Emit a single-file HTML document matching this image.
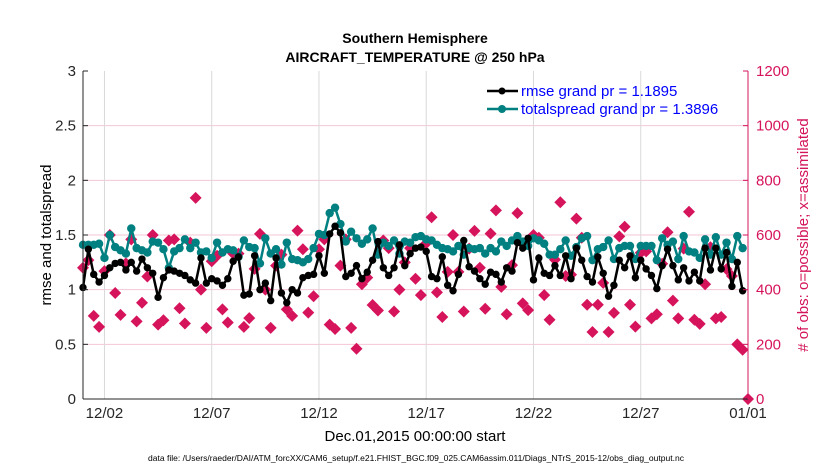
<!DOCTYPE html>
<html><head><meta charset="utf-8"><style>
body{margin:0;background:#fff;}
svg text{font-family:"Liberation Sans",Arial,sans-serif;}
</style></head><body>
<svg id="chart" width="830" height="470" xmlns="http://www.w3.org/2000/svg">
<text x="415" y="43" text-anchor="middle" font-size="14" font-weight="bold">Southern Hemisphere</text>
<text x="415" y="62" text-anchor="middle" font-size="14" font-weight="bold">AIRCRAFT_TEMPERATURE @ 250 hPa</text>
<g id="grid"></g>
<g id="series"></g>
<g id="axes"></g>
<text transform="translate(51,235) rotate(-90)" text-anchor="middle" font-size="15">rmse and totalspread</text>
<text transform="translate(808,235) rotate(-90)" text-anchor="middle" font-size="15" fill="#d4145a"># of obs: o=possible; x=assimilated</text>
<text x="415" y="441" text-anchor="middle" font-size="15">Dec.01,2015 00:00:00 start</text>
<text x="416" y="461" text-anchor="middle" font-size="8.6" textLength="536" lengthAdjust="spacingAndGlyphs">data file: /Users/raeder/DAI/ATM_forcXX/CAM6_setup/f.e21.FHIST_BGC.f09_025.CAM6assim.011/Diags_NTrS_2015-12/obs_diag_output.nc</text>
<g>
<line x1="487" y1="91" x2="518" y2="91" stroke="#000" stroke-width="2.5"/><circle cx="502" cy="91" r="3.5" fill="#000"/>
<text x="521" y="96" font-size="15" fill="#0000ff">rmse grand pr = 1.1895</text>
<line x1="487" y1="109" x2="518" y2="109" stroke="#008080" stroke-width="2.5"/><circle cx="502" cy="109" r="4" fill="#008080"/>
<text x="521" y="114" font-size="15" fill="#0000ff">totalspread grand pr = 1.3896</text>
</g>
</svg>
<script>
const rmse=[1.02,1.37,1.14,1.07,1.13,1.20,1.24,1.25,1.18,1.25,1.17,1.28,1.20,1.15,0.93,1.11,1.18,1.17,1.15,1.13,1.09,1.06,1.29,1.06,1.10,1.08,1.04,1.10,1.26,1.30,0.95,0.96,1.31,1.00,1.06,0.90,1.29,0.97,0.88,1.00,0.97,1.11,1.13,1.14,1.31,1.15,1.51,1.58,1.52,1.12,1.15,1.22,1.10,1.16,1.27,1.44,1.20,1.13,1.20,1.41,1.22,1.33,1.38,
1.39,1.35,1.12,1.10,1.30,1.04,0.99,1.14,1.45,1.21,1.17,1.10,1.05,1.16,1.14,1.07,1.20,1.17,1.43,1.38,1.47,1.09,1.29,1.15,1.13,1.22,1.13,1.31,1.10,1.38,1.27,1.12,1.07,1.30,1.15,0.94,1.04,1.27,1.20,1.31,1.11,1.27,1.19,1.13,1.01,1.22,1.37,1.22,1.09,1.20,1.08,1.16,1.08,1.38,1.18,1.38,1.19,1.34,1.03,1.25,0.99];
const spread=[1.41,1.41,1.41,1.42,1.29,1.50,1.39,1.36,1.33,1.56,1.38,1.36,1.34,1.44,1.43,1.37,1.20,1.35,1.38,1.46,1.38,1.43,1.34,1.35,1.29,1.43,1.34,1.37,1.36,1.30,1.45,1.39,1.38,1.24,1.47,1.33,1.37,1.23,1.43,1.28,1.27,1.25,1.28,1.38,1.51,1.50,1.70,1.75,1.60,1.44,1.53,1.47,1.42,1.46,1.56,1.32,1.43,1.40,1.45,1.33,1.44,1.43,1.48,
1.49,1.46,1.45,1.41,1.38,1.37,1.35,1.40,1.32,1.38,1.37,1.38,1.33,1.38,1.35,1.44,1.40,1.45,1.49,1.44,1.40,1.47,1.45,1.42,1.32,1.32,1.37,1.45,1.31,1.39,1.47,1.49,1.27,1.37,1.39,1.45,1.28,1.38,1.40,1.40,1.28,1.40,1.40,1.40,1.27,1.47,1.41,1.44,1.28,1.49,1.35,1.34,1.29,1.46,1.32,1.48,1.32,1.43,1.28,1.49,1.38];
const nobs=[480,508,304,264,468,600,388,308,496,584,284,352,448,600,272,288,580,584,332,276,572,736,400,260,504,524,328,280,532,532,264,296,476,604,400,260,488,528,328,304,616,548,316,376,548,584,272,256,488,584,260,184,420,444,344,324,580,552,320,400,500,552,440,
380,570,665,390,300,465,600,465,320,550,615,480,330,605,690,410,310,490,680,350,325,600,590,380,290,510,720,450,455,660,590,345,245,345,425,245,315,595,630,345,265,535,540,295,310,495,610,360,295,550,685,290,275,420,555,295,300,475,450,200,180,0];
const xTickLabels=["12/02","12/07","12/12","12/17","12/22","12/27","01/01"];
const xTickDays=[1,6,11,16,21,26,31];
const yTicks=["0","0.5","1","1.5","2","2.5","3"];
const y2Ticks=["0","200","400","600","800","1000","1200"];

const X0=83,X1=748,Y0=399,Y1=71,NS="http://www.w3.org/2000/svg",RED="#d6145c";
const xs=d=>X0+(d/31)*(X1-X0);
const xi=i=>xs(i/4);
const yl=v=>Y0-(v/3)*(Y0-Y1);
const yr=v=>Y0-(v/1200)*(Y0-Y1);
function mk(tag,attrs,parent){const e=document.createElementNS(NS,tag);for(const k in attrs)e.setAttribute(k,attrs[k]);parent.appendChild(e);return e;}
const grid=document.getElementById('grid'),ser=document.getElementById('series'),ax=document.getElementById('axes');
yTicks.forEach((t,k)=>{const y=yl(+t);if(k>0&&k<6){const l=mk('line',{x1:X0,x2:X1,y1:y,y2:y,stroke:'#f5c6d6','stroke-width':1},grid);}
 const tx=mk('text',{x:X0-7,y:y+5,'text-anchor':'end','font-size':15,fill:'#262626'},ax);tx.textContent=t;
 mk('line',{x1:X0,x2:X0+5,y1:y,y2:y,stroke:'#262626'},ax);});
y2Ticks.forEach(t=>{const y=yr(+t);const tx=mk('text',{x:X1+8,y:y+5,'font-size':15,fill:RED},ax);tx.textContent=t;
 mk('line',{x1:X1-5,x2:X1,y1:y,y2:y,stroke:RED},ax);});
xTickDays.forEach((d,k)=>{const x=xs(d);const l=mk('line',{x1:x,x2:x,y1:Y0,y2:Y1,stroke:'#d9d9d9','stroke-width':1},grid);
 const tx=mk('text',{x:x,y:Y0+19,'text-anchor':'middle','font-size':15,fill:'#262626'},ax);tx.textContent=xTickLabels[k];});
mk('line',{x1:X0,x2:X0,y1:Y0,y2:Y1,stroke:'#262626'},ax);
mk('line',{x1:X0,x2:X1,y1:Y0,y2:Y0,stroke:'#262626'},ax);
mk('line',{x1:X1,x2:X1,y1:Y0,y2:Y1,stroke:RED},ax);
nobs.forEach((v,i)=>{const x=xi(i),y=yr(v);const p=mk('path',{d:`M${x} ${y-6}L${x+6} ${y}L${x} ${y+6}L${x-6} ${y}Z`,fill:RED},ser);});
function line(vals,color,r,name){const pts=vals.map((v,i)=>xi(i).toFixed(1)+','+yl(v).toFixed(1)).join(' ');
 const pl=mk('polyline',{points:pts,fill:'none',stroke:color,'stroke-width':2.5},ser);
 vals.forEach((v,i)=>{const c=mk('circle',{cx:xi(i),cy:yl(v),r:r,fill:color},ser);});}
line(spread,'#008080',4.2,'totalspread');
line(rmse,'#000',3.7,'rmse');
</script>
</body></html>
